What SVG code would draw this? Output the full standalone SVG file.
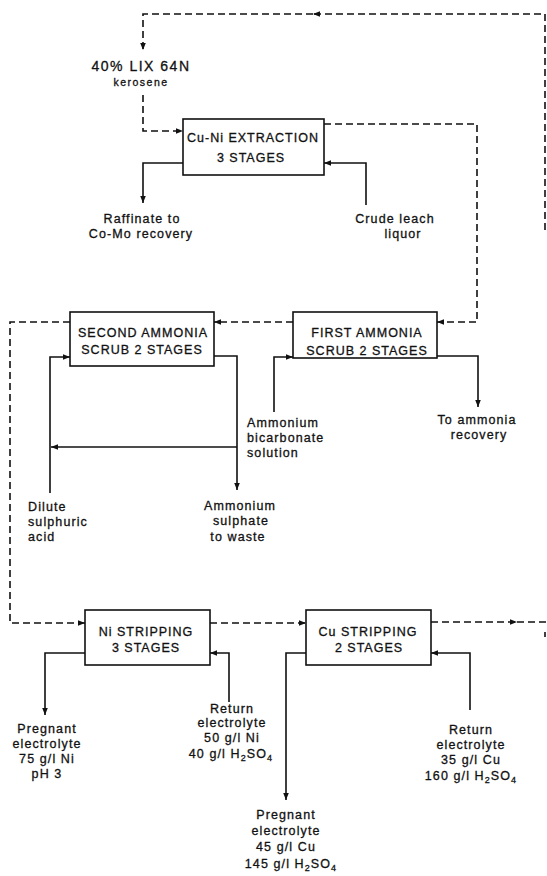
<svg xmlns="http://www.w3.org/2000/svg" width="547" height="876" viewBox="0 0 547 876">
<defs>
<style>
.bx{fill:#fff;stroke:#111;stroke-width:1.6}
.t{font-family:"Liberation Sans",Arial,sans-serif;fill:#111;stroke:#111;stroke-width:0.3;text-anchor:middle}
.tt{font-size:12.5px;letter-spacing:1px}
.lb{font-size:12.5px;letter-spacing:1.1px}
.ll{text-anchor:start}
.sm{font-size:10.5px;letter-spacing:1.5px}
.big{font-size:14px;letter-spacing:1.5px}
.s{fill:none;stroke:#111;stroke-width:1.6}
.d{fill:none;stroke:#111;stroke-width:1.6;stroke-dasharray:7 4}
</style>
<marker id="ah" viewBox="0 0 10 10" refX="10" refY="5" markerWidth="7" markerHeight="7" markerUnits="userSpaceOnUse" orient="auto">
<path d="M0,1 L10,5 L0,9 z" fill="#111"/>
</marker>
</defs>
<rect width="547" height="876" fill="#fff"/>

<g id="connectors">
<path class="d" d="M545,230 V14 H313" marker-end="url(#ah)"/>
<path class="d" d="M313,14 H143 V50" marker-end="url(#ah)"/>
<path class="d" d="M143,95 V131 H183" marker-end="url(#ah)"/>
<path class="d" d="M324,124 H477 V322 H437" marker-end="url(#ah)"/>
<path class="s" d="M183,163 H143 V203" marker-end="url(#ah)"/>
<path class="s" d="M366,205 V163 H324" marker-end="url(#ah)"/>
<path class="d" d="M293,322 H214" marker-end="url(#ah)"/>
<path class="s" d="M274,412 V357 H293" marker-end="url(#ah)"/>
<path class="s" d="M437,356 H478 V407" marker-end="url(#ah)"/>
<path class="d" d="M70,322 H10 V623 H85" marker-end="url(#ah)"/>
<path class="s" d="M50,493 V357 H70" marker-end="url(#ah)"/>
<path class="s" d="M214,356 H237 V490" marker-end="url(#ah)"/>
<path class="s" d="M237,447 H51" marker-end="url(#ah)"/>
<path class="d" d="M210,623 H306" marker-end="url(#ah)"/>
<path class="d" d="M431,622 H517" marker-end="url(#ah)"/>
<path class="d" d="M517,622 H547"/>
<path class="s" d="M545,632 V637"/>
<path class="s" d="M85,653 H45 V715" marker-end="url(#ah)"/>
<path class="s" d="M229,702 V653 H210" marker-end="url(#ah)"/>
<path class="s" d="M306,653 H286 V800" marker-end="url(#ah)"/>
<path class="s" d="M470,710 V653 H431" marker-end="url(#ah)"/>
</g>

<g id="solvent">
<text class="t big" x="141" y="71">40% LIX 64N</text>
<text class="t sm" x="141" y="86">kerosene</text>
</g>

<g id="extraction">
<rect class="bx" x="183" y="119" width="141" height="56"/>
<text class="t tt" x="253" y="142">Cu-Ni EXTRACTION</text>
<text class="t tt" x="251" y="162">3 STAGES</text>
</g>

<g id="raffinate">
<text class="t lb" x="142" y="223">Raffinate to</text>
<text class="t lb" x="141" y="238">Co-Mo recovery</text>
</g>

<g id="crude-leach">
<text class="t lb" x="395" y="223">Crude leach</text>
<text class="t lb" x="403" y="238">liquor</text>
</g>

<g id="first-ammonia">
<rect class="bx" x="293" y="312" width="144" height="46"/>
<text class="t tt" x="367" y="337">FIRST  AMMONIA</text>
<text class="t tt" x="367" y="355">SCRUB 2 STAGES</text>
</g>

<g id="second-ammonia">
<rect class="bx" x="70" y="312" width="144" height="54"/>
<text class="t tt" x="143" y="337">SECOND AMMONIA</text>
<text class="t tt" x="142" y="354">SCRUB 2 STAGES</text>
</g>

<g id="bicarbonate">
<text class="t lb ll" x="247" y="427">Ammonium</text>
<text class="t lb ll" x="247" y="442">bicarbonate</text>
<text class="t lb ll" x="247" y="457">solution</text>
</g>

<g id="ammonia-recovery">
<text class="t lb" x="477" y="424">To ammonia</text>
<text class="t lb" x="479" y="439">recovery</text>
</g>

<g id="dilute-acid">
<text class="t lb ll" x="28" y="511">Dilute</text>
<text class="t lb ll" x="28" y="526">sulphuric</text>
<text class="t lb ll" x="28" y="541">acid</text>
</g>

<g id="ammonium-sulphate">
<text class="t lb" x="240" y="510">Ammonium</text>
<text class="t lb" x="241" y="525">sulphate</text>
<text class="t lb" x="238" y="541">to waste</text>
</g>

<g id="ni-stripping">
<rect class="bx" x="85" y="610" width="125" height="55"/>
<text class="t tt" x="146" y="636">Ni STRIPPING</text>
<text class="t tt" x="146" y="652">3 STAGES</text>
</g>

<g id="cu-stripping">
<rect class="bx" x="306" y="610" width="125" height="55"/>
<text class="t tt" x="368" y="636">Cu STRIPPING</text>
<text class="t tt" x="369" y="652">2 STAGES</text>
</g>

<g id="ni-pregnant">
<text class="t lb" x="47" y="733">Pregnant</text>
<text class="t lb" x="47" y="748">electrolyte</text>
<text class="t lb" x="47" y="763">75 g/l Ni</text>
<text class="t lb" x="47" y="778">pH 3</text>
</g>

<g id="ni-return">
<text class="t lb" x="232" y="713">Return</text>
<text class="t lb" x="232" y="727">electrolyte</text>
<text class="t lb" x="232" y="742">50 g/l Ni</text>
<text class="t lb" x="231" y="758">40 g/l H<tspan dy="3" font-size="9">2</tspan><tspan dy="-3">SO</tspan><tspan dy="3" font-size="9">4</tspan></text>
</g>

<g id="cu-pregnant">
<text class="t lb" x="286" y="819">Pregnant</text>
<text class="t lb" x="286" y="835">electrolyte</text>
<text class="t lb" x="286" y="851">45 g/l Cu</text>
<text class="t lb" x="291" y="868">145 g/l H<tspan dy="3" font-size="9">2</tspan><tspan dy="-3">SO</tspan><tspan dy="3" font-size="9">4</tspan></text>
</g>

<g id="cu-return">
<text class="t lb" x="471" y="734">Return</text>
<text class="t lb" x="471" y="749">electrolyte</text>
<text class="t lb" x="471" y="764">35 g/l Cu</text>
<text class="t lb" x="471" y="780">160 g/l H<tspan dy="3" font-size="9">2</tspan><tspan dy="-3">SO</tspan><tspan dy="3" font-size="9">4</tspan></text>
</g>
</svg>
